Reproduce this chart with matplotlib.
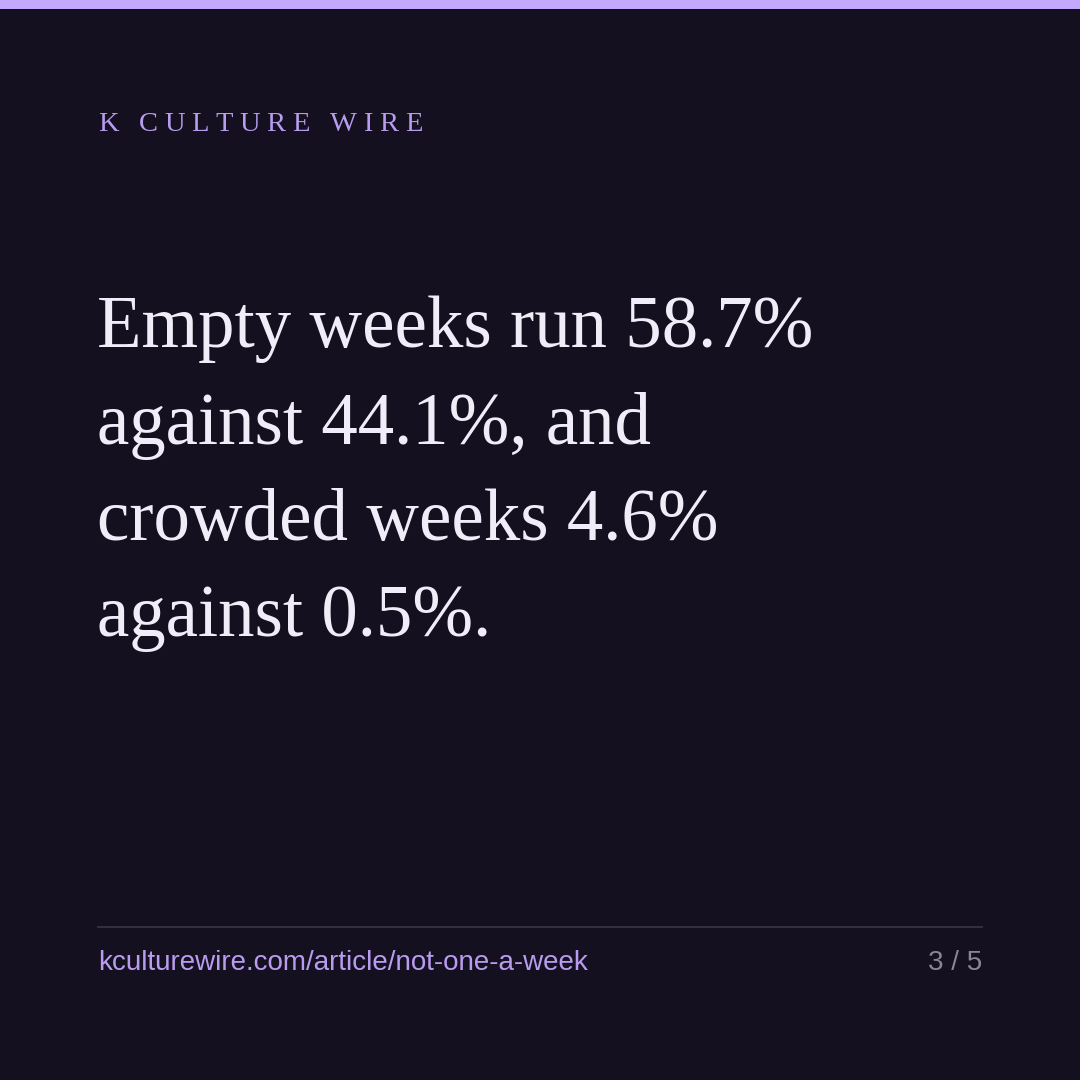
import matplotlib
matplotlib.use("Agg")
import matplotlib.pyplot as plt
from matplotlib.patches import Rectangle
from matplotlib.lines import Line2D

brand = "K CULTURE WIRE"
headline_lines = ["Empty weeks run 58.7%", "against 44.1%, and", "crowded weeks 4.6%", "against 0.5%."]
footer_url = "kculturewire.com/article/not-one-a-week"
page = "3 / 5"

W = H = 1080
fig = plt.figure(figsize=(10.8, 10.8), dpi=100)
fig.patch.set_facecolor("#14101f")
ax = fig.add_axes([0, 0, 1, 1])
ax.set_xlim(0, W); ax.set_ylim(H, 0); ax.axis("off")
ax.set_facecolor("#14101f")

ax.add_patch(Rectangle((0, 0), W, 9, color="#c4a8ff", lw=0))

x = 98
fig.canvas.draw()
r = fig.canvas.get_renderer()
for ch in brand:
    t = ax.text(x, 131, ch, family="Liberation Serif", fontsize=20.5, color="#b89cf0", va="baseline")
    bb = t.get_window_extent(renderer=r)
    x += bb.width + 6.5 if ch != " " else 14

for i, line in enumerate(headline_lines):
    ax.text(97, 347 + i * 96.5, line, family="Liberation Serif", fontsize=52.5,
            color="#f0ecf8", va="baseline")

ax.add_line(Line2D([98, 982], [927, 927], color="#3a3548", lw=1.2))
ax.text(98, 963, footer_url, family="Liberation Sans", fontsize=20, color="#b89cf0", va="center")
ax.text(982, 963, page, family="Liberation Sans", fontsize=20, color="#8a8595", va="center", ha="right")

fig.savefig("out.png", dpi=100, facecolor=fig.get_facecolor())
